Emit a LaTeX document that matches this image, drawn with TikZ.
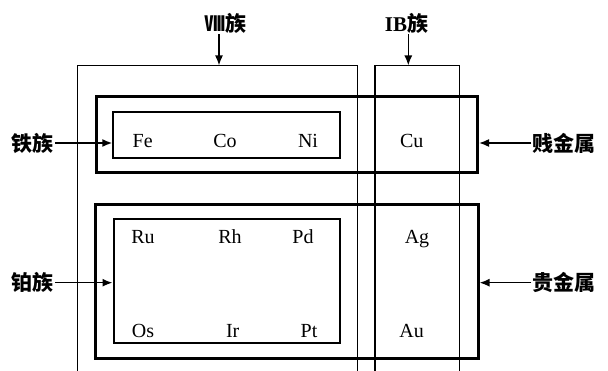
\documentclass[tikz,border=0pt]{standalone}
\usepackage{fontspec}
\setmainfont{Liberation Serif}
\newfontfamily\cjk{Noto Sans CJK SC}
\usetikzlibrary{arrows.meta}
\tikzset{
  grpbox/.style={line width=1.5pt},
  metbox/.style={draw, line width=3pt, inner sep=0pt},
  fambox/.style={draw, line width=2pt, inner sep=0pt},
  elem/.style={font=\fontsize{20}{23}\selectfont, anchor=base, inner sep=0pt},
  tag/.style={font=\cjk\bfseries\fontsize{21}{24}\selectfont, inner sep=1pt},
  pointer/.style={-{Latex[length=10pt,width=8pt]}, line width=1.6pt}
}
\begin{document}
\begin{tikzpicture}[x=1pt,y=-1pt]
  \useasboundingbox (0,0) rectangle (608,371);
  \coordinate (viii-bl) at (77.5,371);
  \coordinate (viii-br) at (357.7,371);
  \coordinate (ib-bl) at (375,371);
  \coordinate (ib-br) at (459.3,371);
  \draw[grpbox] (viii-bl) |- (357.7,65.5) -- (viii-br);
  \draw[grpbox] (ib-bl) |- (459.3,65.5) -- (ib-br);
  \coordinate (viii-in) at (219,65.5);
  \coordinate (ib-in) at (408.3,65.5);
  \node[metbox, minimum width=381.5pt, minimum height=75.5pt] (base) at (286.75,134.75) {};
  \node[metbox, minimum width=382.5pt, minimum height=154pt] (noble) at (286.75,281.9) {};
  \node[fambox, minimum width=227pt, minimum height=45.5pt] (iron) at (226.8,135) {};
  \node[fambox, minimum width=226.5pt, minimum height=124pt] (plat) at (226.75,281.5) {};
  \draw
    (142.7,148) node[elem] (Fe){Fe}
    (225,148) node[elem] (Co){Co}
    (308,148) node[elem] (Ni){Ni}
    (411.7,147.5) node[elem] (Cu){Cu}
    (143,243.5) node[elem] (Ru){Ru}
    (230,243.5) node[elem] (Rh){Rh}
    (303,243.5) node[elem] (Pd){Pd}
    (417,244) node[elem] (Ag){Ag}
    (143,338) node[elem] (Os){Os}
    (232.7,338) node[elem] (Ir){Ir}
    (309,338) node[elem] (Pt){Pt}
    (411.7,338) node[elem] (Au){Au};
  \node[tag] (viii) at (225,23) {Ⅷ族};
  \node[tag] (ib) at (406.5,23) {{\rmfamily\bfseries IB}族};
  \node[tag] (tiezu) at (33,143) {铁族};
  \node[tag] (bozu) at (33,282.7) {铂族};
  \node[tag] (jianjin) at (564,143) {贱金属};
  \node[tag] (guijin) at (564,282.7) {贵金属};
  \begin{scope}[pointer]
    \draw (viii.south -| viii-in) -- (viii-in);
    \draw (ib.south -| ib-in) -- (ib-in);
    \draw (tiezu.east) -- (tiezu.east -| iron.west);
    \draw (bozu.east) -- (bozu.east -| plat.west);
    \draw (jianjin.west) -- (jianjin.west -| base.east);
    \draw (guijin.west) -- (guijin.west -| noble.east);
  \end{scope}
\end{tikzpicture}
\end{document}
